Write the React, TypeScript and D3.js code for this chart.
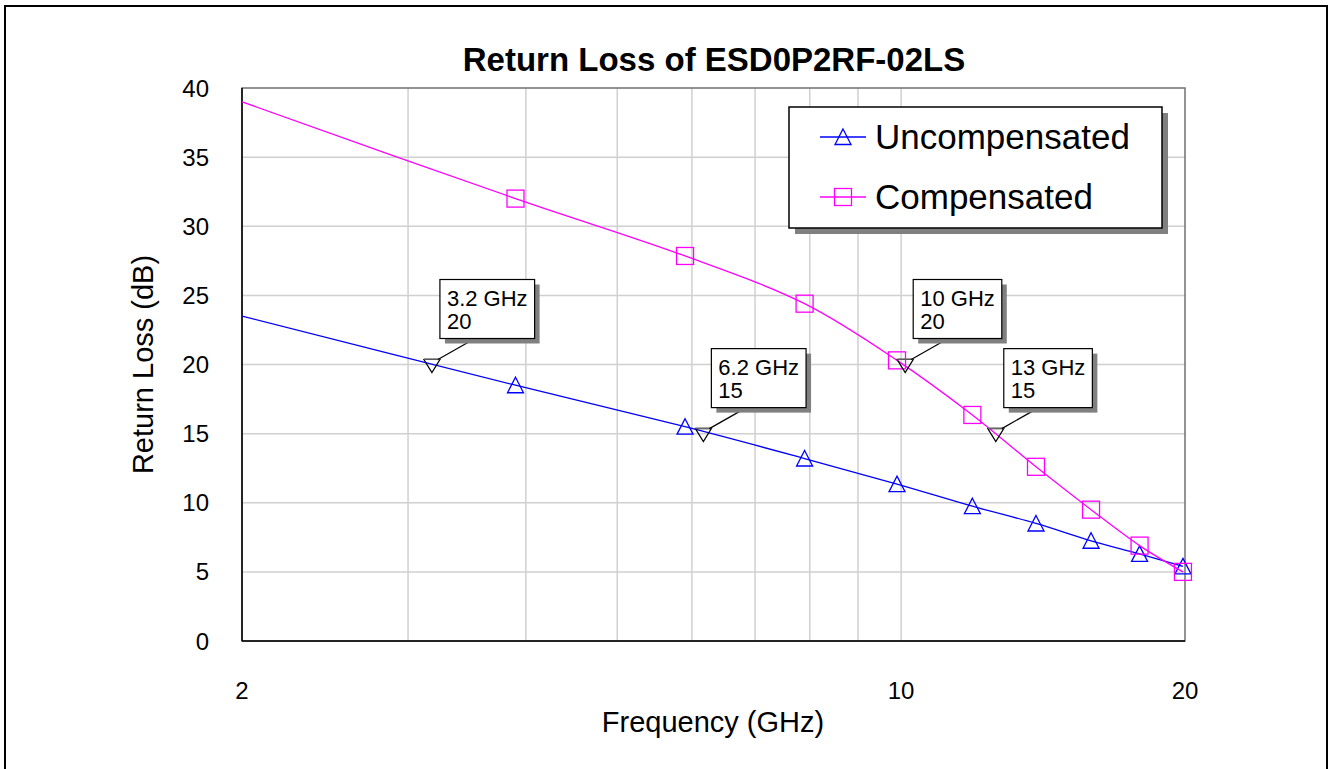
import React from "react";
import * as d3 from "d3";

const WIDTH = 1329;
const HEIGHT = 769;
const FONT = "'Liberation Sans', Arial, sans-serif";

// frequencies (GHz) where markers sit, plus the 2 GHz start of each trace
const freqs = [2, 3.9, 5.9, 7.9, 9.9, 11.9, 13.9, 15.9, 17.9, 19.9];
const uncompensated = [23.5, 18.5, 15.5, 13.2, 11.35, 9.75, 8.5, 7.25, 6.3, 5.4];
const compensated = [39.0, 32.0, 27.85, 24.4, 20.3, 16.35, 12.6, 9.5, 6.9, 5.0];

// marker readouts
const annoFreqs = [3.18, 6.17, 10.1, 12.6];
const annoValues = [20, 15, 20, 15];
const annoLabels = ["3.2 GHz", "6.2 GHz", "10 GHz", "13 GHz"];

const yTicks = [0, 5, 10, 15, 20, 25, 30, 35, 40];
const xTickLabels = [2, 10, 20];
const xGrid = [3, 4, 5, 6, 7, 8, 9, 10];

const series = [
  { name: "Uncompensated", values: uncompensated, color: "#0000ff", marker: "triangle" },
  { name: "Compensated", values: compensated, color: "#ff00ff", marker: "square" },
];

const plot = { left: 242, top: 88, right: 1185, bottom: 641 };

const measure = (text: string, font: string) => {
  const c = document.createElement("canvas").getContext("2d");
  if (!c) return text.length * 11;
  c.font = font;
  return c.measureText(text).width;
};

const Marker = ({ type, x, y, color }: { type: string; x: number; y: number; color: string }) => {
  if (type === "triangle") {
    return (
      <path
        d={`M${x},${y - 8} L${x + 8},${y + 7.5} L${x - 8},${y + 7.5} Z`}
        fill="none"
        stroke={color}
        strokeWidth={1.3}
      />
    );
  }
  return (
    <rect x={x - 8.5} y={y - 8.5} width={17} height={17} fill="none" stroke={color} strokeWidth={1.3} />
  );
};

export default function App() {
  const x = d3.scaleLog().domain([2, 20]).range([plot.left, plot.right]);
  const y = d3.scaleLinear().domain([0, 40]).range([plot.bottom, plot.top]);

  const line = d3
    .line<number>()
    .x((_, i) => x(freqs[i]))
    .y((d) => y(d))
    .curve(d3.curveCatmullRom.alpha(0.5));

  const annoFont = `22px ${FONT}`;

  return (
    <svg
      width={WIDTH}
      height={HEIGHT}
      style={{ position: "absolute", left: 0, top: 0, background: "#fff" }}
      fontFamily={FONT}
    >
      <rect x={5} y={6} width={1322} height={800} fill="#fff" stroke="#000" strokeWidth={2} />

      <text x={714} y={71} textAnchor="middle" fontSize={33} fontWeight="bold">
        Return Loss of ESD0P2RF-02LS
      </text>

      {/* grid */}
      <g stroke="#d0d0d0" strokeWidth={1.5}>
        {yTicks.slice(1, -1).map((t) => (
          <line key={t} x1={plot.left} x2={plot.right} y1={y(t)} y2={y(t)} />
        ))}
        {xGrid.map((f) => (
          <line key={f} x1={x(f)} x2={x(f)} y1={plot.top} y2={plot.bottom} />
        ))}
      </g>
      <rect
        x={plot.left}
        y={plot.top}
        width={plot.right - plot.left}
        height={plot.bottom - plot.top}
        fill="none"
        stroke="#707070"
        strokeWidth={1.5}
      />
      <line x1={plot.left} x2={plot.left} y1={plot.top} y2={plot.bottom} stroke="#000" strokeWidth={1.5} />
      <line x1={plot.left} x2={plot.right} y1={plot.bottom} y2={plot.bottom} stroke="#000" strokeWidth={1.5} />

      {/* axes labels */}
      {yTicks.map((t) => (
        <text key={t} x={209} y={y(t) + 8.5} textAnchor="end" fontSize={24}>
          {t}
        </text>
      ))}
      {xTickLabels.map((t) => (
        <text key={t} x={x(t)} y={699} textAnchor="middle" fontSize={24}>
          {t}
        </text>
      ))}
      <text x={713} y={732} textAnchor="middle" fontSize={29}>
        Frequency (GHz)
      </text>
      <text
        transform={`translate(153, ${(plot.top + plot.bottom) / 2}) rotate(-90)`}
        textAnchor="middle"
        fontSize={29}
      >
        Return Loss (dB)
      </text>

      {/* series */}
      {series.map((s) => (
        <g key={s.name}>
          <path d={line(s.values) ?? ""} fill="none" stroke={s.color} strokeWidth={1.3} />
          {s.values.slice(1).map((v, i) => (
            <Marker key={i} type={s.marker} x={x(freqs[i + 1])} y={y(v)} color={s.color} />
          ))}
        </g>
      ))}

      {/* readout markers */}
      {annoFreqs.map((f, i) => {
        const mx = x(f);
        const my = y(annoValues[i]);
        const w = Math.max(measure(annoLabels[i], annoFont), measure(String(annoValues[i]), annoFont)) + 14;
        const bx = mx + 8;
        const by = my - 85;
        const bh = 59;
        return (
          <g key={i}>
            <path
              d={`M${mx - 8},${my - 5} L${mx + 8},${my - 5} L${mx},${my + 8} Z`}
              fill="none"
              stroke="#000"
              strokeWidth={1.2}
            />
            <line x1={mx - 8} x2={mx + 8} y1={my - 5.5} y2={my - 5.5} stroke="#777" strokeWidth={1.5} />
            <line x1={bx + 35} y1={by + bh} x2={mx + 6} y2={my - 5} stroke="#000" strokeWidth={1.2} />
            <rect x={bx + 5} y={by + 5} width={w} height={bh} fill="#808080" />
            <rect x={bx} y={by} width={w} height={bh} fill="#fff" stroke="#000" strokeWidth={1.2} />
            <text x={bx + 7} y={by + 26} fontSize={22}>
              {annoLabels[i]}
            </text>
            <text x={bx + 7} y={by + 49} fontSize={22}>
              {annoValues[i]}
            </text>
          </g>
        );
      })}

      {/* legend */}
      <g>
        <rect x={795} y={113} width={373} height={121} fill="#808080" />
        <rect x={789} y={107} width={373} height={121} fill="#fff" stroke="#000" strokeWidth={1.5} />
        {series.map((s, i) => {
          const ly = 137 + i * 60;
          return (
            <g key={s.name}>
              <line x1={820} x2={866} y1={ly} y2={ly} stroke={s.color} strokeWidth={1.3} />
              <Marker type={s.marker} x={843} y={ly} color={s.color} />
              <text x={875} y={ly + 12} fontSize={35}>
                {s.name}
              </text>
            </g>
          );
        })}
      </g>
    </svg>
  );
}
